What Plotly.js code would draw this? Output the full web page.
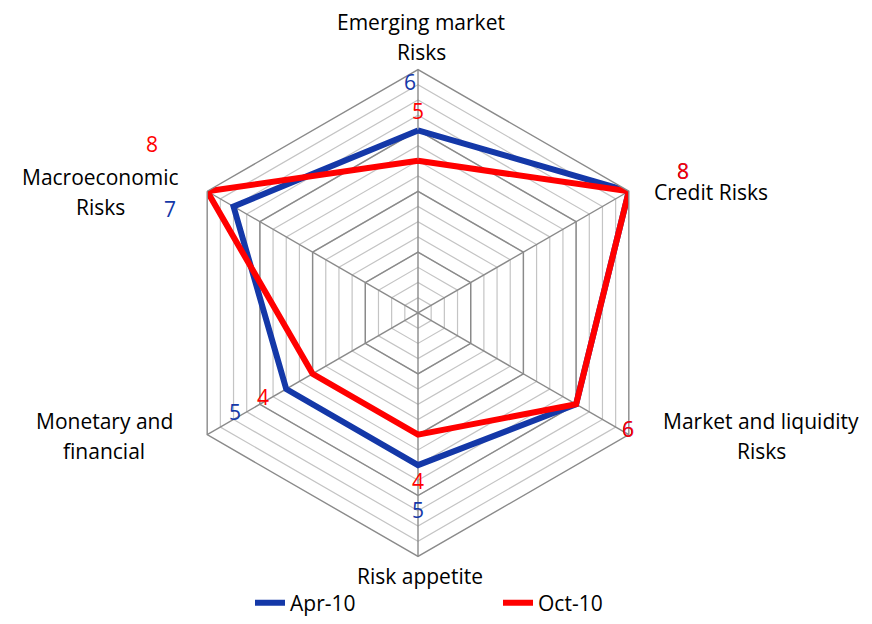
<!DOCTYPE html>
<html><head><meta charset="utf-8">
<script src="https://cdn.plot.ly/plotly-3.0.1.min.js"></script>
<style>body{margin:0;background:#fff}#c{width:872px;height:624px}</style>
</head><body><div id="c"></div>
<script>
const categories = ["Emerging market Risks","Credit Risks","Market and liquidity Risks","Risk appetite","Monetary and financial","Macroeconomic Risks"];
const catLabels = [["Emerging market","Risks"],["Credit Risks"],["Market and liquidity","Risks"],["Risk appetite"],["Monetary and","financial"],["Macroeconomic","Risks"]];
const apr10 = [6, 8, 6, 5, 5, 7];
const oct10 = [5, 8, 6, 4, 4, 8];
const seriesNames = ["Apr-10","Oct-10"];
const BLUE = "#1438A8", RED = "#FF0000";
const FONT = "'Open Sans', sans-serif";
const FS = 21;

const close = a => a.concat([a[0]]);
const thetaC = close(categories);

const traces = [
  {type:"scatterpolar", subplot:"polar", r: close(apr10), theta: thetaC, mode:"lines",
   line:{color:"rgba(0,0,0,0)", width:0}, showlegend:false, hoverinfo:"skip"},
  {type:"scatterpolar", subplot:"polar2", name: seriesNames[0], r: close(apr10), theta: thetaC,
   mode:"lines", line:{color:BLUE, width:6}},
  {type:"scatterpolar", subplot:"polar2", name: seriesNames[1], r: close(oct10), theta: thetaC,
   mode:"lines", line:{color:RED, width:6}}
];

const R = 245, CX = 418, CY = 315;
const dom = {x:[(CX-R)/872, (CX+R)/872], y:[(624-CY-R)/624, (624-CY+R)/624]};
const angBase = {type:"category", categoryarray: categories, rotation:90, direction:"clockwise",
  showticklabels:false, ticks:""};
const layout = {
  width:872, height:624, margin:{l:0,r:0,t:0,b:0}, paper_bgcolor:"#fff",
  font:{family:FONT, size:FS, color:"#000"},
  polar:{domain:dom, gridshape:"linear", bgcolor:"rgba(0,0,0,0)",
    radialaxis:{range:[0,8], dtick:0.5, showticklabels:false, ticks:"", showline:false,
      gridcolor:"#c4c4c4", gridwidth:1.2},
    angularaxis:Object.assign({}, angBase, {showgrid:false, showline:false})},
  polar2:{domain:dom, gridshape:"linear", bgcolor:"rgba(0,0,0,0)",
    radialaxis:{range:[0,8], dtick:2, showticklabels:false, ticks:"", showline:false,
      gridcolor:"#8a8a8a", gridwidth:1.4},
    angularaxis:Object.assign({}, angBase, {showgrid:true, gridcolor:"#8a8a8a", gridwidth:1.4,
      showline:true, linecolor:"#8a8a8a", linewidth:1.4})},
  showlegend:true,
  legend:{orientation:"h", x:250/872, xanchor:"left", y:1-607/624, yanchor:"middle",
    entrywidth:203, font:{family:FONT, size:FS, color:"#000"}, bgcolor:"rgba(0,0,0,0)"},
  annotations:[]
};

// [x, y of first line, xanchor]
const catPos = [[421,22,"center"],[652,193,"left"],[761,424,"center"],[420,580,"center"],[104,424,"center"],[100,178,"center"]];
catLabels.forEach((lines,i)=>lines.forEach((t,j)=>layout.annotations.push({text:t,
  x:catPos[i][0]/872, y:1-(catPos[i][1]+30*j)/624,
  xref:"paper", yref:"paper", showarrow:false, xanchor:catPos[i][2], yanchor:"middle",
  font:{family:FONT,size:FS,color:"#000"}})));

const aprPos = [[410,83],[683,172],[628,432],[418,513],[235,415],[170,210]];
const octPos = [[418,112],[683,172],[628,432],[418,484],[263,400],[152,145]];
apr10.forEach((v,i)=>layout.annotations.push({text:String(v), x:aprPos[i][0]/872, y:1-aprPos[i][1]/624,
  xref:"paper", yref:"paper", showarrow:false, xanchor:"center", yanchor:"middle",
  font:{family:FONT,size:FS,color:BLUE}}));
oct10.forEach((v,i)=>layout.annotations.push({text:String(v), x:octPos[i][0]/872, y:1-octPos[i][1]/624,
  xref:"paper", yref:"paper", showarrow:false, xanchor:"center", yanchor:"middle",
  font:{family:FONT,size:FS,color:RED}}));

Plotly.newPlot("c", traces, layout, {displayModeBar:false, staticPlot:true});
</script></body></html>
